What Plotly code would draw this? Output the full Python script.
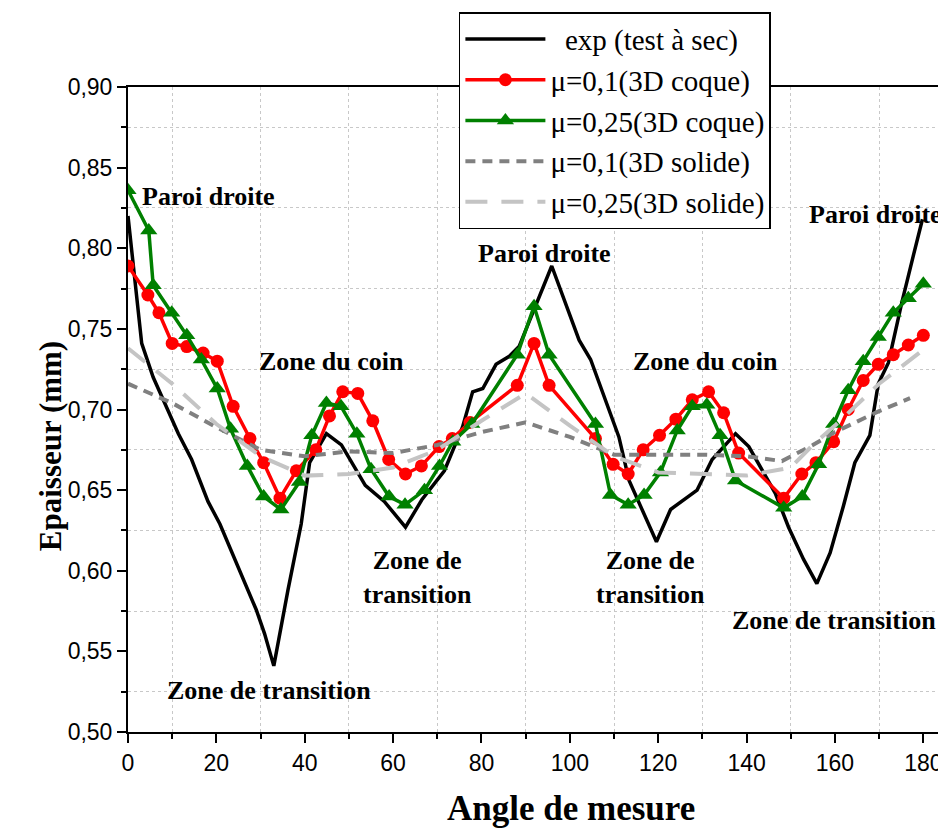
import plotly.graph_objects as go

# ---- data ----
exp_x = [0, 3.1, 5.7, 8, 11.4, 14.4, 18.1, 20.8, 29, 30.9, 33, 36.2, 39.2, 41.1, 44.9, 48.3, 53.7, 58, 62.8, 66.5,
         71.6, 75.7, 78, 80.3, 83.3, 86.3, 88.5, 95.9, 99.1, 102.1, 104.7, 107.3, 111.1, 113.4, 119.6, 122.8,
         125.4, 128.8, 132.2, 137.5, 140.5, 146.5, 149.5, 152.9, 155.9, 158.9, 161.9, 164.5, 167.9, 169.8,
         172.1, 175.1, 177.7, 179.8]
exp_y = [0.820, 0.741, 0.720, 0.706, 0.685, 0.669, 0.643, 0.629, 0.576, 0.561, 0.541, 0.588, 0.629, 0.667, 0.685,
         0.678, 0.653, 0.643, 0.627, 0.644, 0.662, 0.689, 0.711, 0.713, 0.728, 0.733, 0.739, 0.789, 0.766, 0.743,
         0.731, 0.712, 0.683, 0.656, 0.618, 0.638, 0.643, 0.650, 0.669, 0.685, 0.677, 0.648, 0.627, 0.607, 0.592,
         0.611, 0.640, 0.667, 0.684, 0.716, 0.729, 0.766, 0.795, 0.818]

coque01_x = [0, 4.5, 7, 10, 13.3, 17, 20.2, 23.8, 27.6, 30.7, 34.4, 38.1, 42.5, 45.6, 48.6, 52, 55.4, 59, 62.8,
             66.4, 70.4, 73.4, 77.4, 88.1, 91.9, 95.3, 105.8, 109.8, 113.2, 116.6, 120.3, 124, 127.7, 131.4,
             134.8, 138.2, 148.4, 152.5, 155.7, 159.7, 163, 166.4, 169.8, 173.2, 176.6, 180]
coque01_y = [0.789, 0.771, 0.760, 0.741, 0.739, 0.735, 0.730, 0.702, 0.682, 0.667, 0.645, 0.662, 0.675, 0.696,
             0.711, 0.710, 0.693, 0.669, 0.660, 0.665, 0.677, 0.682, 0.692, 0.715, 0.741, 0.715, 0.682, 0.666,
             0.660, 0.675, 0.684, 0.694, 0.706, 0.711, 0.698, 0.673, 0.645, 0.660, 0.667, 0.680, 0.700, 0.718,
             0.728, 0.734, 0.740, 0.746]

coque025_x = [0, 4.7, 5.7, 9.9, 13.3, 16.6, 20.2, 23.2, 27, 30.7, 34.6, 38.8, 41.6, 44.9, 48.2, 51.8, 55, 59.1,
              62.7, 67.1, 70.5, 73.5, 77.8, 88.1, 91.9, 95.3, 105.8, 109.2, 113.2, 116.8, 120.5, 124.3, 127.7,
              131, 134, 137.5, 148.4, 152.6, 156.3, 159.7, 163, 166.4, 169.8, 173.2, 176.6, 180]
coque025_y = [0.836, 0.811, 0.777, 0.760, 0.746, 0.731, 0.713, 0.688, 0.665, 0.646, 0.638, 0.655, 0.684, 0.704,
              0.702, 0.685, 0.663, 0.646, 0.641, 0.650, 0.665, 0.680, 0.691, 0.734, 0.764, 0.734, 0.691, 0.647,
              0.641, 0.647, 0.661, 0.687, 0.702, 0.703, 0.684, 0.656, 0.639, 0.646, 0.666, 0.691, 0.712, 0.730,
              0.745, 0.760, 0.769, 0.778]

solide01_x = [0, 10, 20, 30, 40, 50, 60, 70, 80, 90, 100, 110, 120, 130, 140, 148, 155, 160, 170, 177]
solide01_y = [0.716, 0.704, 0.689, 0.675, 0.671, 0.674, 0.673, 0.678, 0.686, 0.692, 0.683, 0.672, 0.672, 0.672,
              0.671, 0.668, 0.678, 0.686, 0.699, 0.707]

solide025_x = [0, 10, 20, 30, 40, 50, 60, 70, 80, 90, 100, 110, 120, 130, 140, 150, 155, 160, 170, 180]
solide025_y = [0.738, 0.716, 0.691, 0.671, 0.659, 0.660, 0.664, 0.675, 0.693, 0.710, 0.690, 0.671, 0.661, 0.660,
               0.659, 0.664, 0.678, 0.690, 0.716, 0.737]

names = ["\u00a0\u00a0exp (test à sec)", "μ=0,1(3D coque)", "μ=0,25(3D coque)", "μ=0,1(3D solide)",
         "μ=0,25(3D solide)"]

labels_text = ["Paroi droite", "Zone du coin", "Zone de transition", "Paroi droite", "Zone de<br>transition",
               "Zone du coin", "Zone de<br>transition", "Zone de transition", "Paroi droite"]
labels_x = [18.3, 46.1, 31.8, 94.2, 65.5, 130.8, 118.3, 159.7, 169.1]
labels_y = [0.832, 0.730, 0.526, 0.797, 0.596, 0.730, 0.596, 0.569, 0.821]

serif = "Liberation Serif, Times New Roman, serif"
sans = "Liberation Sans, Arial, sans-serif"

fig = go.Figure()
fig.add_trace(go.Scatter(x=exp_x, y=exp_y, name=names[0], mode="lines",
                         line=dict(color="black", width=3.5)))
fig.add_trace(go.Scatter(x=coque01_x, y=coque01_y, name=names[1], mode="lines+markers",
                         line=dict(color="#ff0000", width=3.5),
                         marker=dict(symbol="circle", size=13, color="#ff0000")))
fig.add_trace(go.Scatter(x=coque025_x, y=coque025_y, name=names[2], mode="lines+markers",
                         line=dict(color="#008000", width=3.5),
                         marker=dict(symbol="triangle-up", size=15, color="#008000")))
fig.add_trace(go.Scatter(x=solide01_x, y=solide01_y, name=names[3], mode="lines",
                         line=dict(color="#808080", width=4, dash="10px,7px")))
fig.add_trace(go.Scatter(x=solide025_x, y=solide025_y, name=names[4], mode="lines",
                         line=dict(color="#c4c4c4", width=4, dash="22px,14px")))

for t, x, y in zip(labels_text, labels_x, labels_y):
    fig.add_annotation(x=x, y=y, xref="x", yref="y", text="<b>" + t + "</b>", showarrow=False,
                       font=dict(family=serif, size=26, color="black"))

fig.add_annotation(x=0.545, y=-0.118, xref="paper", yref="paper", text="<b>Angle de mesure</b>",
                   showarrow=False, font=dict(family=serif, size=35, color="black"), yanchor="middle")
fig.add_annotation(x=-0.12, y=0.443, xref="paper", yref="paper", text="<b>Epaisseur (mm)</b>",
                   showarrow=False, textangle=-90, font=dict(family=serif, size=31, color="black"))

axis_common = dict(showline=True, linecolor="black", linewidth=2, mirror=True, ticks="outside",
                   tickcolor="black", tickwidth=2, ticklen=9, showgrid=False, zeroline=False,
                   tickfont=dict(family=sans, size=23, color="black"))

fig.update_xaxes(range=[0, 184], tick0=0, dtick=20,
                 minor=dict(tick0=0, dtick=10, ticks="outside", ticklen=5, tickcolor="black", tickwidth=2,
                            showgrid=True, gridcolor="#c8c8c8", griddash="dot", gridwidth=1),
                 **axis_common)
fig.update_yaxes(range=[0.5, 0.9], tick0=0.5, dtick=0.05, tickformat=".2f",
                 minor=dict(tick0=0.5, dtick=0.025, ticks="outside", ticklen=5, tickcolor="black", tickwidth=2,
                            showgrid=True, gridcolor="#c8c8c8", griddash="dot", gridwidth=1),
                 **axis_common)

# page body has an 8px default margin: size and margins compensate for it
fig.update_layout(
    width=938, height=823,
    margin=dict(l=120, r=3, t=79, b=99),
    plot_bgcolor="white", paper_bgcolor="white",
    separators=", ",
    showlegend=True,
    legend=dict(x=0.407, y=1.116, xanchor="left", yanchor="top",
                bgcolor="white", bordercolor="black", borderwidth=1.5,
                font=dict(family=serif, size=29, color="black"),
                itemwidth=80, tracegroupgap=0),
)

fig.write_html("out.html")
